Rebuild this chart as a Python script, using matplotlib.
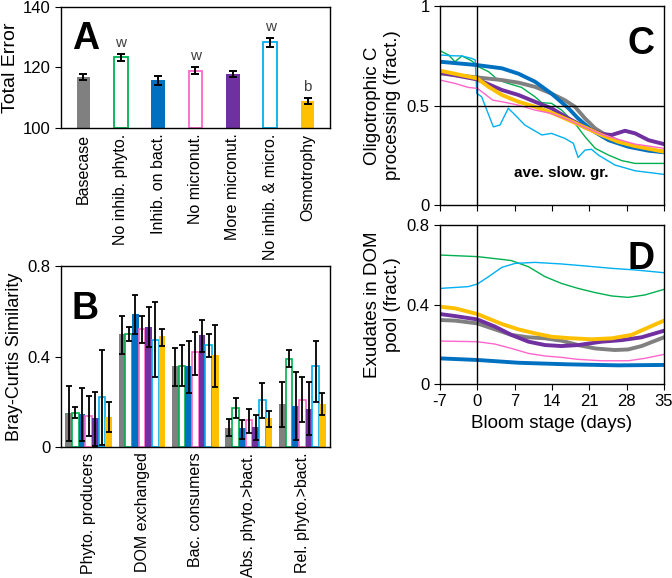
import numpy as np
import matplotlib
matplotlib.use("Agg")
import matplotlib.pyplot as plt

plt.rcParams["font.family"] = ["Liberation Sans", "DejaVu Sans"]
plt.rcParams["axes.unicode_minus"] = False

# scenario colours: basecase, no inhib phyto, inhib on bact, no micronut,
# more micronut, no inhib & micro, osmotrophy
COLORS = ["#808080", "#00B050", "#0070C0", "#FF66CC", "#7030A0", "#00B0F0", "#FFC000"]
OPEN = [False, True, False, True, False, True, False]

# --- panel A ---
scenarios = ["Basecase", "No inhib. phyto.", "Inhib. on bact.", "No micronut.",
             "More micronut.", "No inhib. & micro.", "Osmotrophy"]
total_error = [116.7, 123.3, 115.7, 119.0, 117.8, 128.3, 108.9]
total_error_err = [1.0, 1.2, 1.4, 1.2, 1.1, 1.5, 1.0]
sig_letters = ["", "w", "", "w", "", "w", "b"]

# --- panel B ---
groups = ["Phyto. producers", "DOM exchanged", "Bac. consumers",
          "Abs. phyto.>bact.", "Rel. phyto.>bact."]
# rows = scenarios, cols = groups
bc_mean = [
    [0.150, 0.500, 0.360, 0.085, 0.190],
    [0.150, 0.500, 0.360, 0.173, 0.390],
    [0.145, 0.590, 0.360, 0.084, 0.180],
    [0.137, 0.520, 0.420, 0.118, 0.210],
    [0.127, 0.530, 0.495, 0.087, 0.170],
    [0.222, 0.475, 0.450, 0.210, 0.360],
    [0.133, 0.490, 0.405, 0.130, 0.190],
]
bc_lo = [
    [0.028, 0.410, 0.270, 0.047, 0.090],
    [0.128, 0.470, 0.270, 0.128, 0.355],
    [0.028, 0.500, 0.240, 0.035, 0.030],
    [0.050, 0.460, 0.320, 0.060, 0.110],
    [0.006, 0.440, 0.420, 0.030, 0.055],
    [0.010, 0.310, 0.400, 0.130, 0.200],
    [0.066, 0.445, 0.265, 0.090, 0.143],
]
bc_hi = [
    [0.270, 0.580, 0.437, 0.125, 0.287],
    [0.175, 0.530, 0.450, 0.215, 0.430],
    [0.260, 0.670, 0.470, 0.120, 0.330],
    [0.224, 0.580, 0.510, 0.170, 0.310],
    [0.245, 0.620, 0.560, 0.143, 0.287],
    [0.430, 0.640, 0.500, 0.285, 0.470],
    [0.200, 0.520, 0.540, 0.160, 0.240],
]

# --- panel C (oligotrophic C processing) ---
c_gray_x = [-7, 0, 4.6, 7.7, 10.8, 13.9, 16.4, 18.3, 20.2, 22.1, 24.6, 28.3, 32.1, 35]
c_gray_y = [0.661, 0.641, 0.628, 0.615, 0.594, 0.560, 0.527, 0.494, 0.435, 0.385, 0.343, 0.301, 0.276, 0.268]
c_blue_x = [-7, 0, 4.6, 7.7, 10.8, 13.9, 17.1, 18.9, 21.4, 24.6, 28.3, 32.1, 35]
c_blue_y = [0.720, 0.703, 0.687, 0.660, 0.620, 0.560, 0.486, 0.435, 0.377, 0.326, 0.293, 0.273, 0.265]
c_purple_x = [-7, 0, 4.6, 7.7, 10.8, 13.9, 17.1, 20.2, 23.3, 25.2, 27.7, 29.6, 32.1, 35]
c_purple_y = [0.666, 0.631, 0.578, 0.553, 0.519, 0.486, 0.435, 0.390, 0.357, 0.352, 0.373, 0.360, 0.326, 0.306]
c_yellow_x = [-7, 0, 2.1, 4.6, 7.7, 10.8, 13.9, 17.1, 20.2, 23.3, 26.4, 29.6, 35]
c_yellow_y = [0.675, 0.636, 0.594, 0.553, 0.519, 0.494, 0.464, 0.427, 0.390, 0.352, 0.318, 0.296, 0.268]
c_pink_x = [-7, -4.2, -1.7, 0, 2.9, 4.6, 7.7, 10.8, 13.9, 17.1, 20.2, 23.3, 26.4, 29.6, 35]
c_pink_y = [0.628, 0.611, 0.591, 0.586, 0.527, 0.519, 0.502, 0.477, 0.460, 0.427, 0.390, 0.355, 0.330, 0.306, 0.285]
c_green_x = [-7, -5.4, -4.2, -2.9, -1.1, 0.2, 2.1, 3.9, 5.8, 8.3, 10.8, 12.1, 13.9, 15.8, 18.3, 20.2, 22.1, 24.6, 27.1, 29.6, 35]
c_green_y = [0.775, 0.754, 0.720, 0.749, 0.725, 0.695, 0.670, 0.628, 0.611, 0.591, 0.544, 0.514, 0.511, 0.477, 0.410, 0.343, 0.285, 0.251, 0.223, 0.209, 0.209]
c_cyan_x = [-7, -4.8, -2.9, -1.1, -0.4, -0.1, 0.8, 3.0, 4.25, 5.8, 7.1, 8.9, 12.1, 13.9, 16.4, 18.0, 18.9, 20.2, 21.4, 22.7, 25.8, 29.6, 35]
c_cyan_y = [0.754, 0.750, 0.749, 0.737, 0.729, 0.561, 0.544, 0.393, 0.402, 0.486, 0.452, 0.402, 0.352, 0.360, 0.335, 0.310, 0.239, 0.276, 0.280, 0.251, 0.201, 0.172, 0.154]

# --- panel D (exudates in DOM pool) ---
d_green_x = [-7, 0, 4.6, 6.4, 9.6, 12.7, 15.8, 18.9, 22.1, 25.2, 28.3, 31.4, 35]
d_green_y = [0.649, 0.641, 0.627, 0.621, 0.590, 0.540, 0.506, 0.481, 0.460, 0.443, 0.436, 0.448, 0.476]
d_cyan_x = [-7, -1.7, 0, 2.1, 4.6, 7.1, 10.8, 15.8, 20.2, 25.2, 29.6, 35]
d_cyan_y = [0.481, 0.490, 0.503, 0.540, 0.587, 0.607, 0.612, 0.604, 0.594, 0.582, 0.574, 0.560]
d_yellow_x = [-7, -4.2, 0, 4.6, 7.7, 10.8, 13.9, 17.1, 21.4, 25.2, 28.9, 32.1, 35]
d_yellow_y = [0.389, 0.381, 0.352, 0.302, 0.275, 0.255, 0.238, 0.231, 0.225, 0.230, 0.247, 0.285, 0.319]
d_purple_x = [-7, -4.2, 0, 3.3, 6.4, 9.6, 12.7, 15.8, 18.9, 23.3, 27.1, 30.8, 35]
d_purple_y = [0.352, 0.342, 0.325, 0.289, 0.247, 0.213, 0.196, 0.191, 0.196, 0.213, 0.221, 0.235, 0.268]
d_gray_x = [-7, -4.2, 0, 3.3, 6.4, 9.6, 12.7, 15.8, 18.9, 22.1, 25.8, 28.3, 30.8, 35]
d_gray_y = [0.322, 0.319, 0.305, 0.275, 0.247, 0.235, 0.230, 0.218, 0.196, 0.179, 0.171, 0.174, 0.191, 0.235]
d_pink_x = [-7, 0, 3.3, 6.4, 9.6, 12.7, 15.8, 18.9, 23.3, 28.3, 31.4, 35]
d_pink_y = [0.216, 0.213, 0.201, 0.179, 0.154, 0.141, 0.134, 0.124, 0.117, 0.117, 0.129, 0.149]
d_blue_x = [-7, 0, 7.7, 17.1, 26.4, 35]
d_blue_y = [0.129, 0.121, 0.107, 0.099, 0.094, 0.096]

day_ticks = [-7, 0, 7, 14, 21, 28, 35]

fig = plt.figure(figsize=(6.72, 5.78), dpi=100)
axA = fig.add_axes([0.0908, 0.7785, 0.4002, 0.2095])
axB = fig.add_axes([0.0908, 0.2266, 0.4002, 0.3132])
axC = fig.add_axes([0.6548, 0.6453, 0.3332, 0.3443])
axD = fig.add_axes([0.6548, 0.3356, 0.3332, 0.2751])

TICK_FS = 12
CAT_FS = 11.5
LETTER_FS = 27

# ---- A ----
xa = np.arange(len(scenarios))
for i in range(len(scenarios)):
    if OPEN[i]:
        axA.bar(xa[i], total_error[i] - 100, bottom=100, width=0.36,
                facecolor="white", edgecolor=COLORS[i], linewidth=1.3)
    else:
        axA.bar(xa[i], total_error[i] - 100, bottom=100, width=0.36,
                color=COLORS[i])
axA.errorbar(xa, total_error, yerr=total_error_err, fmt="none",
             ecolor="black", elinewidth=1.4, capsize=3, capthick=1.4)
for i, s in enumerate(sig_letters):
    if s:
        axA.text(xa[i], total_error[i] + total_error_err[i] + 1.2, s,
                 ha="center", va="bottom", fontsize=11, color="#404040")
axA.set_xlim(-0.6, len(scenarios) - 0.4)
axA.set_ylim(100, 140)
axA.set_yticks([100, 120, 140])
axA.set_xticks(xa)
axA.set_xticklabels(scenarios, rotation=90, fontsize=CAT_FS)
axA.tick_params(axis="x", length=0, pad=4)
axA.tick_params(axis="y", labelsize=TICK_FS, direction="out", length=4)
axA.set_ylabel("Total Error", fontsize=14, labelpad=3)
axA.text(0.04, 0.88, "A", transform=axA.transAxes, fontsize=LETTER_FS,
         fontweight="bold", va="top")

# ---- B ----
xb = np.arange(len(groups))
bw = 0.125
for i in range(len(scenarios)):
    pos = xb + (i - 3) * bw
    mean = np.array(bc_mean[i])
    lo = np.array(bc_lo[i])
    hi = np.array(bc_hi[i])
    if OPEN[i]:
        axB.bar(pos, mean, width=bw, facecolor="white",
                edgecolor=COLORS[i], linewidth=1.2)
    else:
        axB.bar(pos, mean, width=bw, color=COLORS[i])
    axB.errorbar(pos, mean, yerr=[mean - lo, hi - mean], fmt="none",
                 ecolor="black", elinewidth=1.3, capsize=2.5, capthick=1.3)
axB.set_xlim(-0.52, len(groups) - 0.48)
axB.set_ylim(0, 0.8)
axB.set_yticks([0, 0.4, 0.8])
axB.set_yticklabels(["0", "0.4", "0.8"])
axB.set_xticks(xb)
axB.set_xticklabels(groups, rotation=90, fontsize=CAT_FS)
axB.tick_params(axis="x", length=0, pad=4)
axB.tick_params(axis="y", labelsize=TICK_FS, direction="out", length=4)
axB.set_ylabel("Bray-Curtis Similarity", fontsize=13, labelpad=3)
axB.text(0.04, 0.86, "B", transform=axB.transAxes, fontsize=LETTER_FS,
         fontweight="bold", va="top")

# ---- C ----
thin, thick = 1.0, 2.8
axC.plot(c_green_x, c_green_y, color=COLORS[1], lw=thin)
axC.plot(c_cyan_x, c_cyan_y, color=COLORS[5], lw=thin)
axC.plot(c_gray_x, c_gray_y, color=COLORS[0], lw=thick)
axC.plot(c_blue_x, c_blue_y, color=COLORS[2], lw=thick)
axC.plot(c_purple_x, c_purple_y, color=COLORS[4], lw=thick)
axC.plot(c_yellow_x, c_yellow_y, color=COLORS[6], lw=thick)
axC.plot(c_pink_x, c_pink_y, color=COLORS[3], lw=thin)
axC.axvline(0, color="black", lw=1.0)
axC.axhline(0.5, color="black", lw=1.0)
axC.set_xlim(-7, 35)
axC.set_ylim(0, 1)
axC.set_xticks(day_ticks)
axC.set_xticklabels([])
axC.set_yticks([0, 0.5, 1])
axC.set_yticklabels(["0", "0.5", "1"])
axC.tick_params(labelsize=TICK_FS, direction="out", length=4)
axC.set_ylabel("Oligotrophic C\nprocessing (fract.)", fontsize=13.5, labelpad=4)
axC.text(15.8, 0.16, "ave. slow. gr.", ha="center", va="center",
         fontsize=11, fontweight="bold")
axC.text(0.96, 0.9, "C", transform=axC.transAxes, fontsize=LETTER_FS,
         fontweight="bold", va="top", ha="right")

# ---- D ----
axD.plot(d_green_x, d_green_y, color=COLORS[1], lw=thin)
axD.plot(d_cyan_x, d_cyan_y, color=COLORS[5], lw=thin)
axD.plot(d_pink_x, d_pink_y, color=COLORS[3], lw=thin)
axD.plot(d_blue_x, d_blue_y, color=COLORS[2], lw=thick)
axD.plot(d_gray_x, d_gray_y, color=COLORS[0], lw=thick)
axD.plot(d_purple_x, d_purple_y, color=COLORS[4], lw=thick)
axD.plot(d_yellow_x, d_yellow_y, color=COLORS[6], lw=thick)
axD.axvline(0, color="black", lw=1.0)
axD.set_xlim(-7, 35)
axD.set_ylim(0, 0.8)
axD.set_xticks(day_ticks)
axD.set_yticks([0, 0.4, 0.8])
axD.set_yticklabels(["0", "0.4", "0.8"])
axD.tick_params(labelsize=TICK_FS, direction="out", length=4)
axD.set_ylabel("Exudates in DOM\npool (fract.)", fontsize=13.5, labelpad=4)
axD.set_xlabel("Bloom stage (days)", fontsize=13.5)
axD.text(0.96, 0.9, "D", transform=axD.transAxes, fontsize=LETTER_FS,
         fontweight="bold", va="top", ha="right")

for ax in (axA, axB, axC, axD):
    for sp in ax.spines.values():
        sp.set_linewidth(1.0)

fig.savefig("out.png", dpi=100)
